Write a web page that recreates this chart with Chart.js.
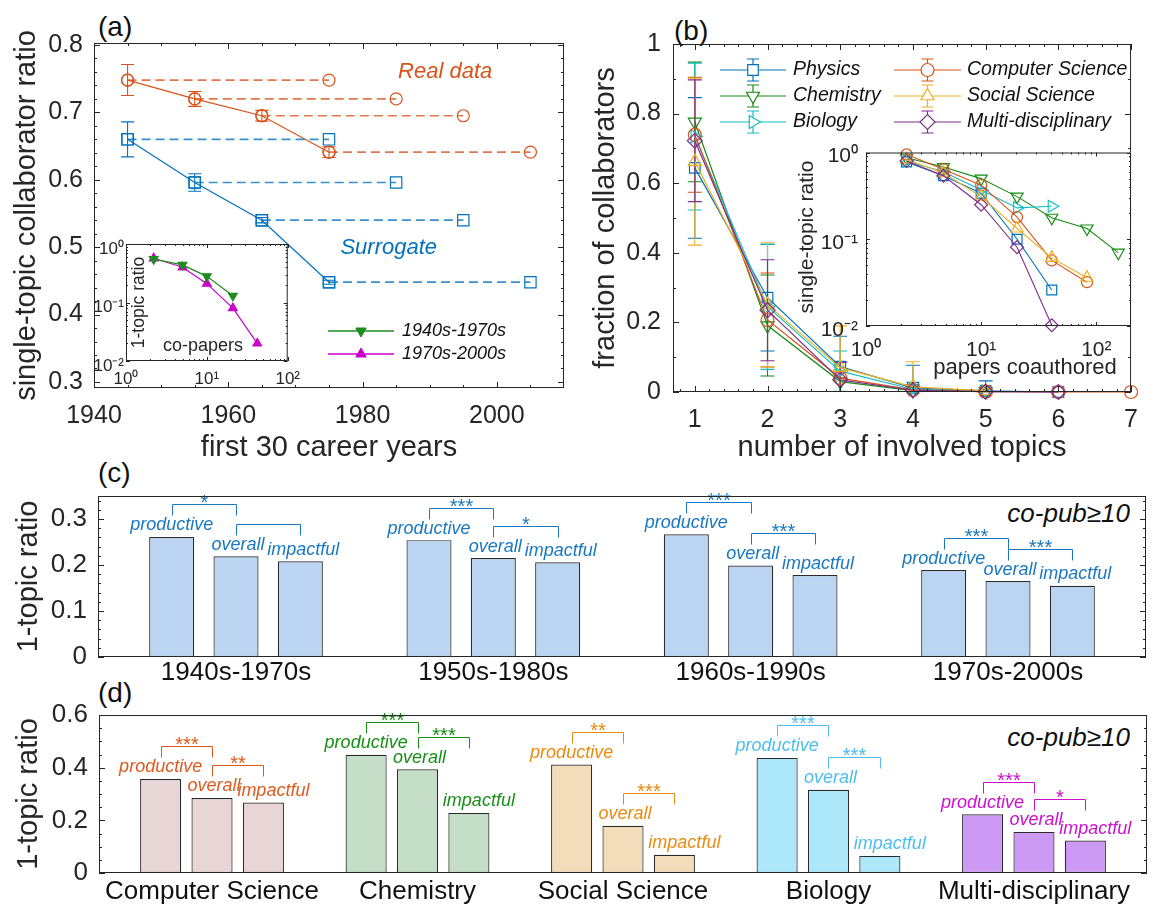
<!DOCTYPE html>
<html><head><meta charset="utf-8">
<script src="https://cdn.jsdelivr.net/npm/chart.js@4.4.1/dist/chart.umd.min.js"></script>
<style>
html,body{margin:0;padding:0;background:#fff;}
body{width:1154px;height:905px;position:relative;overflow:hidden;font-family:"Liberation Sans",Arial,Helvetica,sans-serif;}
canvas{position:absolute;}
.lbl{position:absolute;line-height:1;white-space:nowrap;color:#111;}
</style></head><body>
<div class="lbl" style="left:98px;top:13px;font-size:28px">(a)</div>
<div class="lbl" style="left:674px;top:17px;font-size:28px">(b)</div>
<div class="lbl" style="left:98px;top:459px;font-size:28px">(c)</div>
<div class="lbl" style="left:98px;top:679px;font-size:28px">(d)</div>
<div class="lbl" style="right:24px;top:500px;font-size:26px;font-style:italic">co-pub≥10</div>
<div class="lbl" style="right:24px;top:724px;font-size:26px;font-style:italic">co-pub≥10</div>
<script>
// ---------------- DATA ----------------
// Panel (a): first 30 career years
const careerStarts = [1945, 1955, 1965, 1975];
const careerEnds   = [1975, 1985, 1995, 2005];
const realRatio = [0.748, 0.720, 0.695, 0.641];
const realErr   = [0.023, 0.011, 0.008, 0.008];
const surrRatio = [0.660, 0.596, 0.540, 0.448];
const surrErr   = [0.026, 0.013, 0.004, 0.003];
const aXTicks = [1940, 1960, 1980, 2000];
const aYTicks = [0.3, 0.4, 0.5, 0.6, 0.7, 0.8];
// Inset (a)
const coPapersA = [2.2, 5, 10, 21, 42];
const ratio1940s = [0.55, 0.44, 0.28, 0.13];
const ratio1970s = [0.57, 0.40, 0.21, 0.080, 0.020];
const insetALegend = ['1940s-1970s', '1970s-2000s'];
// Panel (b)
const topicCounts = [1, 2, 3, 4, 5, 6, 7];
const fieldNames = ['Physics', 'Chemistry', 'Biology', 'Computer Science', 'Social Science', 'Multi-disciplinary'];
const fracPhysics   = [0.644, 0.271, 0.073, 0.012, 0.003, 0.0];
const errPhysics    = [0.202, 0.153, 0.087, 0.065, 0.029, 0.0];
const fracChemistry = [0.776, 0.191, 0.030, 0.004, 0.001];
const errChemistry  = [0.172, 0.145, 0.030, 0.010, 0.003];
const fracBiology   = [0.734, 0.245, 0.060, 0.008, 0.002];
const errBiology    = [0.211, 0.180, 0.058, 0.020, 0.005];
const fracCS        = [0.739, 0.207, 0.040, 0.006, 0.001, 0.0, 0.0];
const errCS         = [0.165, 0.135, 0.045, 0.015, 0.004, 0.0, 0.0];
const fracSocial    = [0.662, 0.251, 0.070, 0.015, 0.003];
const errSocial     = [0.240, 0.178, 0.120, 0.072, 0.010];
const fracMulti     = [0.722, 0.235, 0.035, 0.005, 0.001, 0.0];
const errMulti      = [0.175, 0.145, 0.050, 0.012, 0.004, 0.0];
const bXTicks = [1, 2, 3, 4, 5, 6, 7];
const bYTicks = [0, 0.2, 0.4, 0.6, 0.8, 1];
// Inset (b)
const coPapersB = [2.25, 4.7, 10, 20.5, 41, 83, 155];
const singlePhysics   = [0.78, 0.54, 0.34, 0.10, 0.026];
const singleChemistry = [0.87, 0.68, 0.50, 0.31, 0.177, 0.133, 0.070];
const singleBiology   = [0.80, 0.60, 0.37, 0.23, 0.24];
const singleCS        = [0.95, 0.64, 0.42, 0.18, 0.057, 0.032];
const singleSocial    = [0.83, 0.58, 0.31, 0.133, 0.061, 0.036];
const singleMulti     = [0.80, 0.54, 0.25, 0.081, 0.0102];
const logXTicksA = [1, 10, 100];
const logYTicks = [0.01, 0.1, 1];
// Panel (c)
const cohorts = ['1940s-1970s', '1950s-1980s', '1960s-1990s', '1970s-2000s'];
const groupNames = ['productive', 'overall', 'impactful'];
const cProductive = [0.261, 0.254, 0.267, 0.189];
const cOverall    = [0.219, 0.215, 0.199, 0.165];
const cImpactful  = [0.208, 0.206, 0.178, 0.155];
const cSigPO = ['*', '***', '***', '***'];
const cSigOI = ['', '*', '***', '***'];
const cYTicks = [0, 0.1, 0.2, 0.3];
// Panel (d)
const disciplines = ['Computer Science', 'Chemistry', 'Social Science', 'Biology', 'Multi-disciplinary'];
const dProductive = [0.357, 0.449, 0.412, 0.437, 0.223];
const dOverall    = [0.285, 0.394, 0.179, 0.316, 0.156];
const dImpactful  = [0.268, 0.228, 0.069, 0.065, 0.123];
const dSigPO = ['***', '***', '**', '***', '***'];
const dSigOI = ['**', '***', '***', '***', '*'];
const dYTicks = [0, 0.2, 0.4, 0.6];

// ---------------- STYLE ----------------
const FONT = '"Liberation Sans", Arial, Helvetica, sans-serif';
Chart.defaults.font.family = FONT;
Chart.defaults.color = '#262626';
const AX = '#262626';
const ORANGE = '#D95319', BLUE = '#0072BD';
const GREEN_I = '#1E8C1E', MAGENTA_I = '#C800C8';
const seriesB = [
  {vals: fracPhysics,   err: errPhysics,   ins: singlePhysics,   color: '#0072BD', style: 'rect',     rot: 0,   r: 7.5, ri: 7},
  {vals: fracChemistry, err: errChemistry, ins: singleChemistry, color: '#178B17', style: 'triangle', rot: 180, r: 7.5, ri: 7},
  {vals: fracBiology,   err: errBiology,   ins: singleBiology,   color: '#14BEC4', style: 'triangle', rot: 90,  r: 7.5, ri: 7},
  {vals: fracCS,        err: errCS,        ins: singleCS,        color: '#D95319', style: 'circle',   rot: 0,   r: 6.5, ri: 5.5},
  {vals: fracSocial,    err: errSocial,    ins: singleSocial,    color: '#EDB120', style: 'triangle', rot: 0,   r: 7.5, ri: 7},
  {vals: fracMulti,     err: errMulti,     ins: singleMulti,     color: '#7E2F8E', style: 'rectRot',  rot: 0,   r: 7.5, ri: 6.5},
];
const cFill = '#BAD4F1', cText = '#1A78C2';
const dFills = ['#E8D6D6', '#C4DEC8', '#F2DCBA', '#ADE7FA', '#CC9AF5'];
const dTexts = ['#DD5A1E', '#178F17', '#EA8A10', '#4DBEEE', '#CC10CC'];

// ---------------- HELPERS ----------------
function range(a, b, s) { const r = []; for (let v = a; v <= b + 1e-9; v += s) r.push(+v.toFixed(6)); return r; }
function without(arr, majors) { return arr.filter(v => !majors.some(m => Math.abs(m - v) < 1e-9)); }
function logMinors(lo, hi) { const r = []; for (let d = lo; d < hi; d *= 10) for (let k = 2; k < 10; k++) { const v = +(k * d).toPrecision(6); if (v < hi) r.push(v); } return r; }
const SUP = {'0': '\u2070', '1': '\u00B9', '2': '\u00B2', '-': '\u207B'};
const pow10 = v => '10' + String(Math.round(Math.log10(v))).split('').map(c => SUP[c]).join('');

function mkCanvas(box, yW, xH, padT, padR) {
  const c = document.createElement('canvas');
  const w = box.R - box.L + yW + padR, h = box.B - box.T + padT + xH;
  c.width = w; c.height = h;
  Object.assign(c.style, {left: (box.L - yW) + 'px', top: (box.T - padT) + 'px', width: w + 'px', height: h + 'px'});
  document.body.appendChild(c);
  c._ox = box.L - yW; c._oy = box.T - padT;
  return c;
}
function axisX(o) {
  return {
    type: o.type || 'linear', position: 'bottom', min: o.min, max: o.max, offset: false,
    afterFit: s => { s.height = o.height; },
    afterBuildTicks: s => { s.ticks = o.ticks.map(v => ({value: v})); },
    grid: {display: false, drawTicks: false, offset: false}, border: {display: false},
    ticks: {autoSkip: false, maxRotation: 0, minRotation: 0, padding: o.pad, labelOffset: o.lo || 0, color: o.color || AX,
      font: {size: o.size, lineHeight: 1}, callback: o.fmt},
    title: o.title ? {display: true, text: o.title, color: AX, font: {size: 29, lineHeight: 1}, padding: 0} : {display: false}
  };
}
function axisY(o) {
  return {
    type: o.type || 'linear', position: 'left', min: o.min, max: o.max,
    afterFit: s => { s.width = o.width; },
    afterBuildTicks: s => { s.ticks = o.ticks.map(v => ({value: v})); },
    grid: {display: false, drawTicks: false}, border: {display: false},
    ticks: {autoSkip: false, padding: o.pad, labelOffset: o.lo || 0, color: AX, font: {size: o.size, lineHeight: 1}, callback: o.fmt},
    title: o.title ? {display: true, text: o.title, color: AX, font: {size: 29, lineHeight: 1}, padding: 0} : {display: false}
  };
}
function baseOpts(padT, padR, scales) {
  return {responsive: false, animation: false, devicePixelRatio: 1,
    layout: {padding: {top: padT, right: padR, left: 0, bottom: 0}},
    plugins: {legend: {display: false}, tooltip: {enabled: false}},
    events: [], scales};
}
function drawMarker(ctx, style, x, y, r, rotDeg, stroke, fill, lw) {
  let rad = rotDeg * Math.PI / 180;
  ctx.save(); ctx.beginPath();
  if (style === 'circle') ctx.arc(x, y, r, 0, Math.PI * 2);
  else if (style === 'rect') { const s = r * Math.SQRT1_2; ctx.rect(x - s, y - s, 2 * s, 2 * s); }
  else if (style === 'rectRot') { ctx.moveTo(x - r, y); ctx.lineTo(x, y - r); ctx.lineTo(x + r, y); ctx.lineTo(x, y + r); ctx.closePath(); }
  else if (style === 'triangle') {
    ctx.moveTo(x + Math.sin(rad) * r, y - Math.cos(rad) * r);
    rad += 2 * Math.PI / 3; ctx.lineTo(x + Math.sin(rad) * r, y - Math.cos(rad) * r);
    rad += 2 * Math.PI / 3; ctx.lineTo(x + Math.sin(rad) * r, y - Math.cos(rad) * r);
    ctx.closePath();
  }
  if (fill) { ctx.fillStyle = fill; ctx.fill(); }
  ctx.strokeStyle = stroke; ctx.lineWidth = lw; ctx.stroke();
  ctx.restore();
}
function txt(ctx, s, x, y, font, color, align, baseline, rot) {
  ctx.save(); ctx.font = font; ctx.fillStyle = color; ctx.textAlign = align || 'center'; ctx.textBaseline = baseline || 'middle';
  ctx.translate(x, y); if (rot) ctx.rotate(rot); ctx.fillText(s, 0, 0); ctx.restore();
}
function framePlugin(f) {
  return {
    id: 'frame',
    beforeDraw(chart) {
      if (!f.fill) return;
      const a = chart.chartArea, ctx = chart.ctx;
      ctx.save(); ctx.fillStyle = f.fill; ctx.fillRect(a.left, a.top, a.right - a.left, a.bottom - a.top); ctx.restore();
    },
    afterDraw(chart) {
      const {ctx, chartArea: a, scales} = chart;
      const xs = scales.x, ys = scales.y;
      ctx.save(); ctx.strokeStyle = f.color || AX; ctx.lineWidth = 1; ctx.beginPath();
      const X = v => Math.round(xs.getPixelForValue(v)) + 0.5, Y = v => Math.round(ys.getPixelForValue(v)) + 0.5;
      const xt = (vals, len) => vals.forEach(v => { const p = X(v); ctx.moveTo(p, a.bottom); ctx.lineTo(p, a.bottom - len); ctx.moveTo(p, a.top); ctx.lineTo(p, a.top + len); });
      const yt = (vals, len) => vals.forEach(v => { const p = Y(v); ctx.moveTo(a.left, p); ctx.lineTo(a.left + len, p); ctx.moveTo(a.right, p); ctx.lineTo(a.right - len, p); });
      xt(f.xMajor || [], f.major); xt(f.xMinor || [], f.minor);
      yt(f.yMajor || [], f.major); yt(f.yMinor || [], f.minor);
      ctx.stroke();
      ctx.strokeRect(a.left + 0.5, a.top + 0.5, a.right - a.left - 1, a.bottom - a.top - 1);
      ctx.restore();
      if (f.extra) f.extra(chart);
    }
  };
}
const errorBarPlugin = {
  id: 'errbars',
  beforeDatasetsDraw(chart) {
    const {ctx, scales: {x, y}, chartArea: a} = chart;
    ctx.save(); ctx.beginPath(); ctx.rect(a.left, a.top, a.right - a.left, a.bottom - a.top); ctx.clip();
    chart.data.datasets.forEach(ds => {
      if (!ds.err) return;
      ctx.strokeStyle = ds.borderColor; ctx.lineWidth = 1.1;
      ds.data.forEach((pt, i) => {
        const e = ds.err[i]; if (!e) return;
        const px = x.getPixelForValue(pt.x);
        const y1 = y.getPixelForValue(pt.y - e), y2 = y.getPixelForValue(pt.y + e);
        const cw = ds.capHalf || 6;
        ctx.beginPath();
        ctx.moveTo(px, y1); ctx.lineTo(px, y2);
        ctx.moveTo(px - cw, y1); ctx.lineTo(px + cw, y1);
        ctx.moveTo(px - cw, y2); ctx.lineTo(px + cw, y2);
        ctx.stroke();
      });
    });
    ctx.restore();
  }
};
function lineDs(xs, ys, o) {
  return Object.assign({
    data: ys.map((v, i) => ({x: xs[i], y: v})),
    borderColor: o.color, borderWidth: 1.2, pointStyle: o.style, pointRotation: o.rot || 0,
    pointRadius: o.r, pointBorderColor: o.color, pointBackgroundColor: o.fill || 'rgba(0,0,0,0)',
    pointBorderWidth: 1.2, clip: false, tension: 0
  }, o.extra || {});
}

// ---------------- PANEL (a) ----------------
const boxA = {L: 94, T: 43, R: 564, B: 388};
const cvA = mkCanvas(boxA, 82, 74, 43, 10);
const dsA = [];
careerStarts.forEach((s, i) => {
  dsA.push(lineDs([s, careerEnds[i]], [realRatio[i], realRatio[i]], {color: ORANGE, style: 'circle', r: 6,
    extra: {borderColor: 'rgba(217,83,25,0.78)', borderDash: [9, 5], borderWidth: 1.7}}));
  dsA.push(lineDs([s, careerEnds[i]], [surrRatio[i], surrRatio[i]], {color: BLUE, style: 'rect', r: 8,
    extra: {borderColor: 'rgba(0,114,189,0.78)', borderDash: [9, 5], borderWidth: 1.7}}));
});
dsA.push(lineDs(careerStarts, realRatio, {color: ORANGE, style: 'circle', r: 6, extra: {err: realErr, capHalf: 6.5}}));
dsA.push(lineDs(careerStarts, surrRatio, {color: BLUE, style: 'rect', r: 8, extra: {err: surrErr, capHalf: 6.5}}));
new Chart(cvA, {
  type: 'line', data: {datasets: dsA},
  options: baseOpts(43, 10, {
    x: axisX({min: 1940, max: 2010, ticks: aXTicks, fmt: v => String(v), size: 25, pad: 16, height: 74, title: 'first 30 career years'}),
    y: axisY({min: 0.291, max: 0.803, ticks: aYTicks, fmt: v => String(v), size: 25, pad: 11, width: 82, title: 'single-topic collaborator ratio'})
  }),
  plugins: [errorBarPlugin, framePlugin({
    major: 6, minor: 3,
    xMajor: aXTicks, xMinor: without(range(1945, 2005, 5), aXTicks),
    yMajor: aYTicks, yMinor: without(range(0.3, 0.8, 0.02), aYTicks),
    extra(chart) {
      const {ctx, scales: {x, y}} = chart, ox = chart.canvas._ox, oy = chart.canvas._oy;
      txt(ctx, 'Real data', x.getPixelForValue(1992.3), y.getPixelForValue(0.760), 'italic 22px ' + FONT, ORANGE);
      txt(ctx, 'Surrogate', x.getPixelForValue(1983.9), y.getPixelForValue(0.499), 'italic 22px ' + FONT, BLUE);
      // legend of inset (a)
      const leg = [{c: GREEN_I, rot: 180, y: 331}, {c: MAGENTA_I, rot: 0, y: 354}];
      leg.forEach((l, i) => {
        ctx.save(); ctx.strokeStyle = l.c; ctx.lineWidth = 1.3; ctx.beginPath();
        ctx.moveTo(328 - ox, l.y - oy); ctx.lineTo(394 - ox, l.y - oy); ctx.stroke(); ctx.restore();
        drawMarker(ctx, 'triangle', 361 - ox, l.y - oy, 6, l.rot, l.c, l.c, 1);
        txt(ctx, insetALegend[i], 402 - ox, l.y - oy, 'italic 18px ' + FONT, '#111', 'left');
      });
    }
  })]
});

// ---------------- INSET (a) ----------------
const boxIA = {L: 126, T: 244, R: 292, B: 361};
const cvIA = mkCanvas(boxIA, 40, 30, 14, 18);
new Chart(cvIA, {
  type: 'line',
  data: {datasets: [
    lineDs(coPapersA, ratio1940s, {color: GREEN_I, style: 'triangle', rot: 180, r: 5, fill: GREEN_I}),
    lineDs(coPapersA, ratio1970s, {color: MAGENTA_I, style: 'triangle', rot: 0, r: 5, fill: MAGENTA_I})
  ]},
  options: baseOpts(14, 18, {
    x: axisX({type: 'logarithmic', min: 1, max: 100, ticks: logXTicksA, fmt: v => pow10(v), size: 17, pad: 10, height: 30}),
    y: axisY({type: 'logarithmic', min: 0.01, max: 1, ticks: logYTicks, fmt: v => pow10(v), size: 17, pad: 2, lo: 5, width: 40})
  }),
  plugins: [framePlugin({
    fill: '#fff', major: 4, minor: 2,
    xMajor: logXTicksA, xMinor: logMinors(1, 100), yMajor: logYTicks, yMinor: logMinors(0.01, 1),
    extra(chart) {
      const ctx = chart.ctx, ox = chart.canvas._ox, oy = chart.canvas._oy;
      txt(ctx, '1-topic ratio', 139.5 - ox, 302.5 - oy, '17.5px ' + FONT, AX, 'center', 'middle', -Math.PI / 2);
      txt(ctx, 'co-papers', 203 - ox, 346 - oy, '18px ' + FONT, AX);
    }
  })]
});

// ---------------- PANEL (b) ----------------
const boxB = {L: 673, T: 44, R: 1146, B: 392};
const cvB = mkCanvas(boxB, 82, 70, 44, 8);
new Chart(cvB, {
  type: 'line',
  data: {datasets: seriesB.map((s, i) => lineDs(topicCounts, s.vals, {color: s.color, style: s.style, rot: s.rot, r: s.r,
    extra: {err: s.err, capHalf: 7, order: seriesB.length - i}}))},
  options: baseOpts(44, 8, {
    x: axisX({min: 0.7, max: 7, ticks: bXTicks, fmt: v => String(v), size: 25, pad: 16, height: 70, title: 'number of involved topics'}),
    y: axisY({min: 0, max: 1, ticks: bYTicks, fmt: v => String(v), size: 25, pad: 12, width: 82, title: 'fraction of collaborators'})
  }),
  plugins: [errorBarPlugin, framePlugin({
    major: 6, minor: 3,
    xMajor: bXTicks, xMinor: without(range(0.8, 6.8, 0.2), bXTicks),
    yMajor: bYTicks, yMinor: without(range(0.1, 0.9, 0.1), bYTicks),
    extra(chart) {
      const ctx = chart.ctx, ox = chart.canvas._ox, oy = chart.canvas._oy;
      const cols = [{x0: 720, x1: 786, m: 753, t: 793}, {x0: 894, x1: 961, m: 927.5, t: 967}];
      const rows = [70, 96, 122];
      seriesB.forEach((s, i) => {
        const c = cols[Math.floor(i / 3)], yy = rows[i % 3] - oy;
        ctx.save(); ctx.strokeStyle = s.color; ctx.lineWidth = 1.2; ctx.beginPath();
        ctx.moveTo(c.x0 - ox, yy); ctx.lineTo(c.x1 - ox, yy);
        ctx.moveTo(c.m - ox, yy - 11); ctx.lineTo(c.m - ox, yy + 11);
        ctx.moveTo(c.m - ox - 6, yy - 11); ctx.lineTo(c.m - ox + 6, yy - 11);
        ctx.moveTo(c.m - ox - 6, yy + 11); ctx.lineTo(c.m - ox + 6, yy + 11);
        ctx.stroke(); ctx.restore();
        drawMarker(ctx, s.style, c.m - ox, yy, s.r, s.rot, s.color, '#fff', 1.2);
        txt(ctx, fieldNames[i], c.t - ox, yy, 'italic 19.5px ' + FONT, '#111', 'left');
      });
    }
  })]
});

// ---------------- INSET (b) ----------------
const boxIB = {L: 866, T: 148, R: 1131, B: 326};
const cvIB = mkCanvas(boxIB, 70, 56, 14, 16);
new Chart(cvIB, {
  type: 'line',
  data: {datasets: seriesB.map((s, i) => lineDs(coPapersB, s.ins, {color: s.color, style: s.style, rot: s.rot, r: s.ri,
    extra: {order: seriesB.length - i, borderWidth: 1.1}}))},
  options: baseOpts(14, 16, {
    x: axisX({type: 'logarithmic', min: 1, max: 200, ticks: logXTicksA, fmt: v => pow10(v), size: 21, pad: 14, height: 56}),
    y: axisY({type: 'logarithmic', min: 0.01, max: 1, ticks: logYTicks, fmt: v => pow10(v), size: 21, pad: 8, lo: 4, width: 70})
  }),
  plugins: [framePlugin({
    fill: '#fff', major: 4, minor: 2,
    xMajor: logXTicksA, xMinor: logMinors(1, 200), yMajor: logYTicks, yMinor: logMinors(0.01, 1),
    extra(chart) {
      const ctx = chart.ctx, ox = chart.canvas._ox, oy = chart.canvas._oy;
      txt(ctx, 'single-topic ratio', 807 - ox, 237 - oy, '21px ' + FONT, AX, 'center', 'middle', -Math.PI / 2);
      txt(ctx, 'papers coauthored', 1025 - ox, 368 - oy, '22px ' + FONT, AX);
    }
  })]
});

// ---------------- BAR PANELS (c), (d) ----------------
function barAnnotPlugin(cfg) {
  return {
    id: 'barannot',
    afterDatasetsDraw(chart) {
      const ctx = chart.ctx;
      const metas = [0, 1, 2].map(i => chart.getDatasetMeta(i));
      const n = metas[0].data.length;
      for (let g = 0; g < n; g++) {
        const color = cfg.textColors[g];
        const bars = metas.map(m => m.data[g]);
        const labelY = bars.map(b => b.y - 11.5);
        groupNames.forEach((name, k) => txt(ctx, name, bars[k].x + cfg.labelDx[k], labelY[k], 'italic 18px ' + FONT, color));
        [[0, 1, cfg.sig1[g]], [1, 2, cfg.sig2[g]]].forEach(([p, q, s]) => {
          const legB = Math.round(Math.min(labelY[p], labelY[q]) - 10) + 0.5;
          const top = legB - 11;
          const x1 = Math.round(bars[p].x) + 0.5, x2 = Math.round(bars[q].x) + 0.5;
          ctx.save(); ctx.strokeStyle = color; ctx.lineWidth = 1; ctx.beginPath();
          ctx.moveTo(x1, legB); ctx.lineTo(x1, top); ctx.lineTo(x2, top); ctx.lineTo(x2, legB); ctx.stroke(); ctx.restore();
          if (s) txt(ctx, s, (x1 + x2) / 2, top + 4, '20px ' + FONT, color, 'center', 'alphabetic');
        });
      }
    }
  };
}
function barDs(vals, fills, pct) {
  return {data: vals.map((v, i) => ({x: i + 1, y: v})), backgroundColor: fills, borderColor: '#2b2b2b', borderWidth: 1.2,
    borderSkipped: false, categoryPercentage: 0.75, barPercentage: pct};
}
// (c)
const boxC = {L: 98, T: 492, R: 1146, B: 657};
const cvC = mkCanvas(boxC, 84, 35, 20, 8);
new Chart(cvC, {
  type: 'bar',
  data: {datasets: [barDs(cProductive, cFill, 0.70), barDs(cOverall, cFill, 0.70), barDs(cImpactful, cFill, 0.70)]},
  options: baseOpts(20, 8, {
    x: axisX({min: 0.4637, max: 4.5363, ticks: [1, 2, 3, 4], fmt: v => cohorts[v - 1], size: 26, pad: 3, height: 35, color: '#111'}),
    y: axisY({min: 0, max: 0.35, ticks: cYTicks, fmt: v => String(v), size: 26, pad: 11, width: 84, title: '1-topic ratio'})
  }),
  plugins: [barAnnotPlugin({textColors: cohorts.map(() => cText), labelDx: [0, 2, 3], sig1: cSigPO, sig2: cSigOI}),
    framePlugin({major: 6, minor: 3, yMajor: cYTicks, yMinor: without(range(0.02, 0.34, 0.02), cYTicks)})]
});
// (d)
const boxD = {L: 99, T: 711, R: 1147, B: 873};
const cvD = mkCanvas(boxD, 85, 32, 20, 7);
new Chart(cvD, {
  type: 'bar',
  data: {datasets: [barDs(dProductive, dFills, 0.80), barDs(dOverall, dFills, 0.80), barDs(dImpactful, dFills, 0.80)]},
  options: baseOpts(20, 7, {
    x: axisX({min: 0.45, max: 5.55, ticks: [1, 2, 3, 4, 5], fmt: v => disciplines[v - 1], size: 26, pad: 6, height: 32, color: '#111'}),
    y: axisY({min: 0, max: 0.6, ticks: dYTicks, fmt: v => String(v), size: 26, pad: 11, width: 85, title: '1-topic ratio'})
  }),
  plugins: [barAnnotPlugin({textColors: dTexts, labelDx: [0, 2, 10], sig1: dSigPO, sig2: dSigOI}),
    framePlugin({major: 6, minor: 3, yMajor: dYTicks, yMinor: without(range(0.05, 0.55, 0.05), dYTicks)})]
});
</script>
</body></html>
